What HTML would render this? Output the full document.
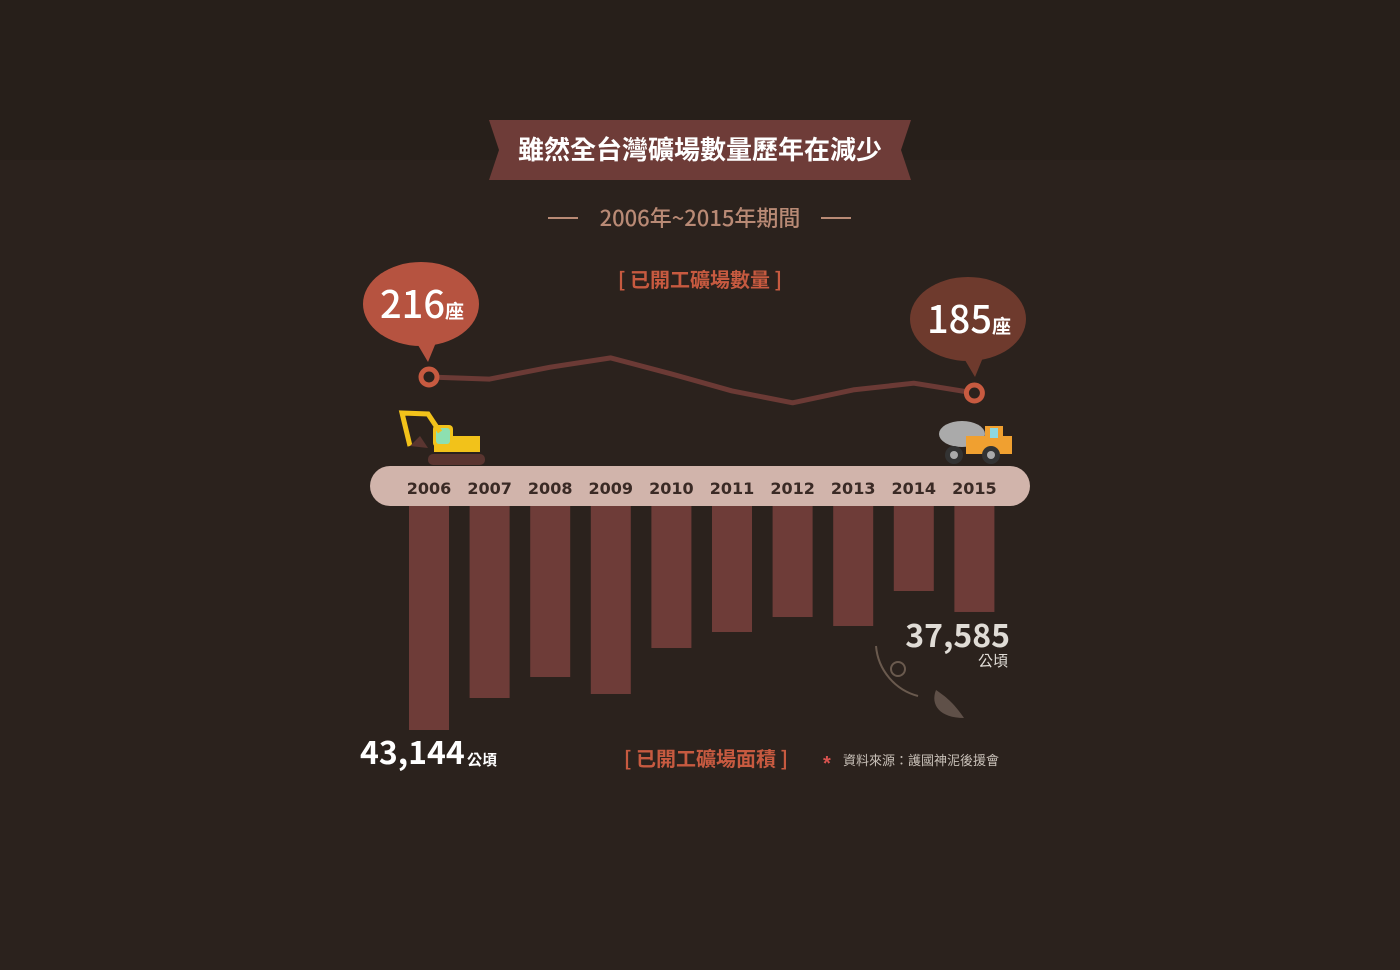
<!DOCTYPE html>
<html><head><meta charset="utf-8">
<style>
body{margin:0;background:#2b221d;}
#wrap{position:relative;width:1400px;height:970px;overflow:hidden;background:#2b221d;font-family:"Liberation Sans","Noto Sans CJK TC",sans-serif;}
.top{position:absolute;left:0;top:0;width:1400px;height:160px;background:#271f1a;}
.abs{position:absolute;}
</style></head><body>
<div id="wrap">
<div class="top"></div>
<svg class="abs" style="left:0;top:0" width="1400" height="970">
  <polygon points="489,120 911,120 901,150 911,180 489,180 499,150" fill="#6e3c38"/>
  <text x="700" y="159" text-anchor="middle" fill="#fff" font-size="26" font-weight="bold" font-family="Noto Sans CJK TC,sans-serif">雖然全台灣礦場數量歷年在減少</text>
  <line x1="548" y1="218" x2="578" y2="218" stroke="#b98a75" stroke-width="2"/>
  <line x1="821" y1="218" x2="851" y2="218" stroke="#b98a75" stroke-width="2"/>
  <text x="700" y="226" text-anchor="middle" fill="#b98a75" font-size="22" font-weight="500" font-family="Noto Sans CJK TC,sans-serif">2006年~2015年期間</text>
  <text x="700" y="287" text-anchor="middle" fill="#c75a40" font-size="20" font-weight="bold" font-family="Noto Sans CJK TC,sans-serif">[ 已開工礦場數量 ]</text>
  <rect x="370" y="466" width="660" height="40" rx="20" fill="#d1b4ab"/>
  <g id="bars"></g>
  <g id="labels"></g>
  <polyline id="line" fill="none" stroke="#6b3a35" stroke-width="5" stroke-linejoin="round"/>
  <g id="dots"></g>
  <ellipse cx="421" cy="304" rx="58" ry="42" fill="#b65340"/>
  <polygon points="415,340 437,340 428,362" fill="#b65340"/>
  <text x="380" y="318" fill="#fff" font-size="38" font-weight="500" font-family="Noto Sans CJK TC,sans-serif">216<tspan font-size="19" font-weight="bold">座</tspan></text>
  <ellipse cx="968" cy="319" rx="58" ry="42" fill="#6e3a2d"/>
  <polygon points="962,355 984,355 975,377" fill="#6e3a2d"/>
  <text x="927" y="333" fill="#fff" font-size="38" font-weight="500" font-family="Noto Sans CJK TC,sans-serif">185<tspan font-size="19" font-weight="bold">座</tspan></text>
  <g>
    <rect x="428" y="454" width="57" height="11" rx="5" fill="#5a3530"/>
    <rect x="434" y="436" width="46" height="16" fill="#f2c21a"/>
    <rect x="433" y="425" width="20" height="22" rx="4" fill="#f2c21a"/>
    <rect x="436" y="428" width="14" height="16" rx="3" fill="#8de0b0"/>
    <polyline points="440,432 428,414 402,413 410,446" fill="none" stroke="#f2c21a" stroke-width="5"/>
    <path d="M410,446 L420,436 L428,448 Z" fill="#5a3530"/>
  </g>
  <g>
    <ellipse cx="962" cy="434" rx="23" ry="13" fill="#aaa"/>
    <rect x="966" y="436" width="46" height="18" fill="#f0a030"/>
    <rect x="985" y="426" width="18" height="14" fill="#f0a030"/>
    <rect x="990" y="428" width="8" height="10" fill="#8ed8e0"/>
    <circle cx="954" cy="455" r="9" fill="#333"/><circle cx="954" cy="455" r="4" fill="#aaa"/>
    <circle cx="991" cy="455" r="9" fill="#333"/><circle cx="991" cy="455" r="4" fill="#aaa"/>
  </g>
  <text x="360" y="764" fill="#fff" font-size="32" font-weight="bold" font-family="Noto Sans CJK TC,sans-serif">43,144</text>
  <text x="467" y="765" fill="#fff" font-size="15" font-weight="bold" font-family="Noto Sans CJK TC,sans-serif">公頃</text>
  <text x="1010" y="647" text-anchor="end" fill="#e0dcd6" font-size="32" font-weight="bold" font-family="Noto Sans CJK TC,sans-serif">37,585</text>
  <text x="1008" y="666" text-anchor="end" fill="#e0dcd6" font-size="15" font-family="Noto Sans CJK TC,sans-serif">公頃</text>
  <path d="M876,646 C878,670 895,690 918,696" fill="none" stroke="#6a5a4e" stroke-width="2"/>
  <circle cx="898" cy="669" r="7" fill="none" stroke="#6a5a4e" stroke-width="2"/>
  <path d="M936,690 C930,705 940,718 964,718 C955,705 948,698 936,690 Z" fill="#5f5048"/>
  <text x="706" y="766" text-anchor="middle" fill="#c75a40" font-size="20" font-weight="bold" font-family="Noto Sans CJK TC,sans-serif">[ 已開工礦場面積 ]</text>
  <text x="823" y="770" fill="#d9534f" font-size="20" font-weight="bold">*</text>
  <text x="843" y="765" fill="#c8c0b8" font-size="13" font-family="Noto Sans CJK TC,sans-serif">資料來源：護國神泥後援會</text>
</svg>
</div>
<script>
const years=["2006","2007","2008","2009","2010","2011","2012","2013","2014","2015"];
const counts=[216,212,235,253,222,189,166,191,204,185];
const areas=[43144,41637,40648,41448,39282,38528,37822,38245,36597,37585];
const NS="http://www.w3.org/2000/svg";
const xPos=i=>429+i*60.6;
const yCount=v=>377+(216-v)*16/31;
const barH=v=>(v-32593)*0.02123;
const bars=document.getElementById('bars'),labels=document.getElementById('labels'),dots=document.getElementById('dots');
years.forEach((y,i)=>{
  const r=document.createElementNS(NS,'rect');
  r.setAttribute('x',xPos(i)-20);r.setAttribute('y',506);r.setAttribute('width',40);
  r.setAttribute('height',Math.max(0,barH(areas[i])));r.setAttribute('fill','#6e3c38');
  
  
  bars.appendChild(r);
  const t=document.createElementNS(NS,'text');
  t.setAttribute('x',xPos(i));t.setAttribute('y',494);t.setAttribute('text-anchor','middle');
  t.setAttribute('fill','#3a2a25');t.setAttribute('font-size','16');t.setAttribute('font-weight','bold');
  t.setAttribute('font-family','DejaVu Sans,sans-serif');
  t.textContent=y;
  
  
  labels.appendChild(t);
});
document.getElementById('line').setAttribute('points',counts.map((v,i)=>xPos(i)+','+yCount(v)).join(' '));
[0,counts.length-1].forEach(i=>{
  const c=document.createElementNS(NS,'circle');
  c.setAttribute('cx',xPos(i));c.setAttribute('cy',yCount(counts[i]));c.setAttribute('r',8);
  c.setAttribute('fill','#2b221d');c.setAttribute('stroke','#c75a40');c.setAttribute('stroke-width',5);
  
  
  dots.appendChild(c);
});
</script>
</body></html>
